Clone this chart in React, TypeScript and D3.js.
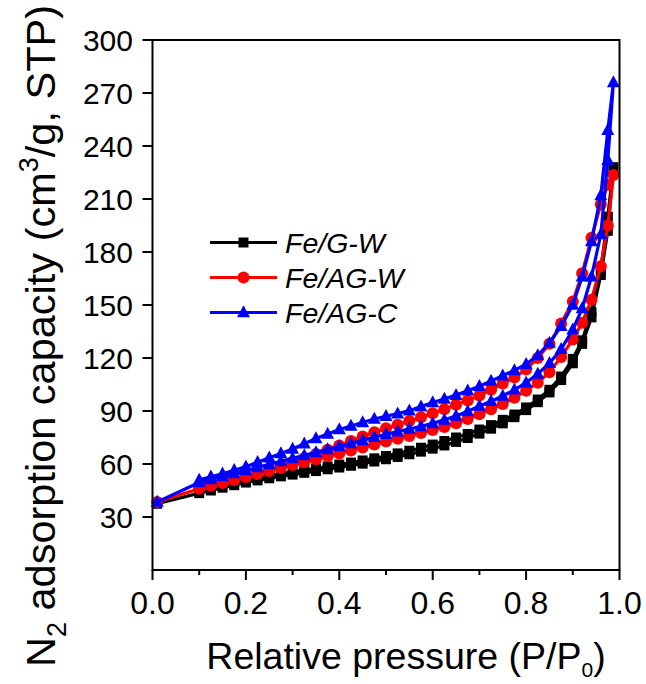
import React from "react";
import * as d3 from "d3";

// ---------- data ----------
const seriesNames = ["Fe/G-W", "Fe/AG-W", "Fe/AG-C"];

const pAds = [0.01, 0.1, 0.125, 0.15, 0.175, 0.2, 0.225, 0.25, 0.275, 0.3, 0.325, 0.35, 0.375, 0.4, 0.425, 0.45, 0.475, 0.5, 0.525, 0.55, 0.575, 0.6, 0.625, 0.65, 0.675, 0.7, 0.725, 0.75, 0.775, 0.8, 0.825, 0.85, 0.875, 0.9, 0.92, 0.94, 0.96, 0.975, 0.987];
const pDes = [0.975, 0.96, 0.94, 0.92, 0.9, 0.875, 0.85, 0.825, 0.8, 0.775, 0.75, 0.725, 0.7, 0.675, 0.65, 0.625, 0.6, 0.575, 0.55, 0.525, 0.5, 0.475, 0.45, 0.425, 0.4, 0.375, 0.35, 0.325, 0.3, 0.275, 0.25, 0.225, 0.2, 0.175, 0.15, 0.125, 0.1];

const fegwAds = [37.5, 43.5, 45, 46.6, 48, 49.5, 50.7, 51.9, 53, 54, 55, 56, 57, 58, 59, 60.2, 61.4, 62.7, 64, 65.5, 67, 68.7, 70.5, 72.5, 74.7, 77.2, 80, 83, 86.5, 90.5, 95, 100.5, 107.5, 117, 128, 143, 167, 192, 228];
const fegwDes = [200, 170, 146, 130, 119.5, 109.5, 102, 96.5, 92, 88, 85, 82, 79.5, 77, 75, 73, 71, 69.2, 67.5, 66, 64.5, 63.2, 62, 60.8, 59.7, 58.6, 57.5, 56.5, 55.5, 54.5, 53.4, 52.3, 51.2, 50, 48.7, 47.2, 45.5];

const feagwAds = [38.5, 46, 47.7, 49.3, 51, 52.7, 54.3, 56, 57.7, 59.4, 61, 62.7, 64.4, 66, 67.7, 69.4, 71.1, 72.8, 74.3, 75.9, 77.5, 79.2, 81, 83, 85.5, 88.2, 91, 94, 97.5, 101.5, 106, 112, 120.6, 130.5, 140, 153, 172, 195, 223.6];
const feagwDes = [218, 207, 188, 168, 152, 139.5, 128, 120, 113.5, 109, 105.5, 102, 98.8, 96, 93.5, 91, 88.7, 86.4, 84.3, 82.2, 80.2, 78, 75.5, 73, 70.5, 68, 65.7, 63.4, 61.2, 59, 57, 55, 53.2, 51.5, 49.8, 48.2, 46.7];

const feagcAds = [38.5, 49.5, 51.2, 52.9, 54.6, 56.3, 58, 59.8, 61.5, 63.2, 64.9, 66.6, 68.3, 70, 71.7, 73.4, 75.1, 76.8, 78.3, 79.8, 81.3, 83, 85, 87.2, 89.8, 92.8, 95.5, 98.5, 102, 106, 111, 117, 125, 136, 148, 166, 190, 232, 276];
const feagcDes = [249, 212, 186, 166, 150, 138, 128.5, 121.5, 116.5, 113, 110, 107, 104, 101.5, 99, 96.8, 94.8, 92.5, 90.2, 88.5, 87, 85.5, 83.5, 81.5, 79.5, 77, 74.5, 71.5, 68.5, 66, 63.5, 61, 58.5, 56.5, 54.5, 52.8, 51];

const xTicks = [0, 0.2, 0.4, 0.6, 0.8, 1.0];
const xMinorTicks = [0.1, 0.3, 0.5, 0.7, 0.9];
const yTicks = [30, 60, 90, 120, 150, 180, 210, 240, 270, 300];

// ---------- layout ----------
const W = 646, H = 684;
const L = 152.5, R = 619.5, T = 40, B = 570;
const FONT = "'Liberation Sans', Arial, sans-serif";

const colors = ["#000000", "#ff0000", "#0000ff"];
const shapes = ["square", "circle", "triangle"];

function Marker({ shape, x, y, color }: { shape: string; x: number; y: number; color: string }) {
  if (shape === "square") return <rect x={x - 5} y={y - 5} width={10} height={10} fill={color} />;
  if (shape === "circle") return <circle cx={x} cy={y} r={6} fill={color} />;
  const s = 13, h = 12;
  return <path d={`M${x},${y - h * 0.6} L${x + s / 2},${y + h * 0.4} L${x - s / 2},${y + h * 0.4} Z`} fill={color} />;
}

export default function App() {
  const x = d3.scaleLinear().domain([0, 1]).range([L, R]);
  const y = d3.scaleLinear().domain([0, 300]).range([B, T]);

  const ads = [fegwAds, feagwAds, feagcAds];
  const des = [fegwDes, feagwDes, feagcDes];
  const series = seriesNames.map((name, i) => {
    const pts: [number, number][] = [
      ...pAds.map((p, j) => [p, ads[i][j]] as [number, number]),
      ...pDes.map((p, j) => [p, des[i][j]] as [number, number]),
    ];
    return { name, pts, color: colors[i], shape: shapes[i] };
  });

  const line = d3.line<[number, number]>().x((d) => x(d[0])).y((d) => y(d[1]));

  const legendY = [242.5, 277.5, 312.5];

  return (
    <svg width={W} height={H} style={{ position: "absolute", left: 0, top: 0, background: "#fff" }} fontFamily={FONT}>
      <rect x={0} y={0} width={W} height={H} fill="#fff" />
      {/* series */}
      {series.map((s) => (
        <g key={s.name}>
          <path d={line(s.pts) || ""} fill="none" stroke={s.color} strokeWidth={3.2} strokeLinejoin="round" />
          {s.pts.map((d, k) => (
            <Marker key={k} shape={s.shape} x={x(d[0])} y={y(d[1])} color={s.color} />
          ))}
        </g>
      ))}
      {/* frame */}
      <rect x={L} y={T} width={R - L} height={B - T} fill="none" stroke="#000" strokeWidth={2} />
      {/* x ticks */}
      {xTicks.map((t) => (
        <g key={"xt" + t}>
          <line x1={x(t)} x2={x(t)} y1={B} y2={B + 10} stroke="#000" strokeWidth={2} />
          <text x={x(t)} y={614} fontSize={32} textAnchor="middle">{d3.format(".1f")(t)}</text>
        </g>
      ))}
      {xMinorTicks.map((t) => (
        <line key={"xm" + t} x1={x(t)} x2={x(t)} y1={B} y2={B + 5} stroke="#000" strokeWidth={2} />
      ))}
      {/* y ticks */}
      {yTicks.map((t) => (
        <g key={"yt" + t}>
          <line x1={L - 10} x2={L} y1={y(t)} y2={y(t)} stroke="#000" strokeWidth={2} />
          <text x={133} y={y(t) + 11} fontSize={30} textAnchor="end">{t}</text>
        </g>
      ))}
      {/* axis titles */}
      <text x={406} y={669} fontSize={37.5} textAnchor="middle">
        Relative pressure (P/P<tspan fontSize={21} dy={8}>0</tspan><tspan dy={-8}>)</tspan>
      </text>
      <text transform={`translate(55,336) rotate(-90)`} fontSize={41.5} textAnchor="middle">
        N<tspan fontSize={27} dy={11}>2</tspan><tspan dy={-11}> adsorption capacity (cm</tspan><tspan fontSize={27} dy={-17}>3</tspan><tspan dy={17}>/g, STP)</tspan>
      </text>
      {/* legend */}
      {series.map((s, i) => (
        <g key={"lg" + i}>
          <line x1={210} x2={277} y1={legendY[i]} y2={legendY[i]} stroke={s.color} strokeWidth={3.2} />
          <Marker shape={s.shape} x={243.5} y={legendY[i]} color={s.color} />
          <text x={285} y={legendY[i] + 10} fontSize={28.5} fontStyle="italic">{s.name}</text>
        </g>
      ))}
    </svg>
  );
}
